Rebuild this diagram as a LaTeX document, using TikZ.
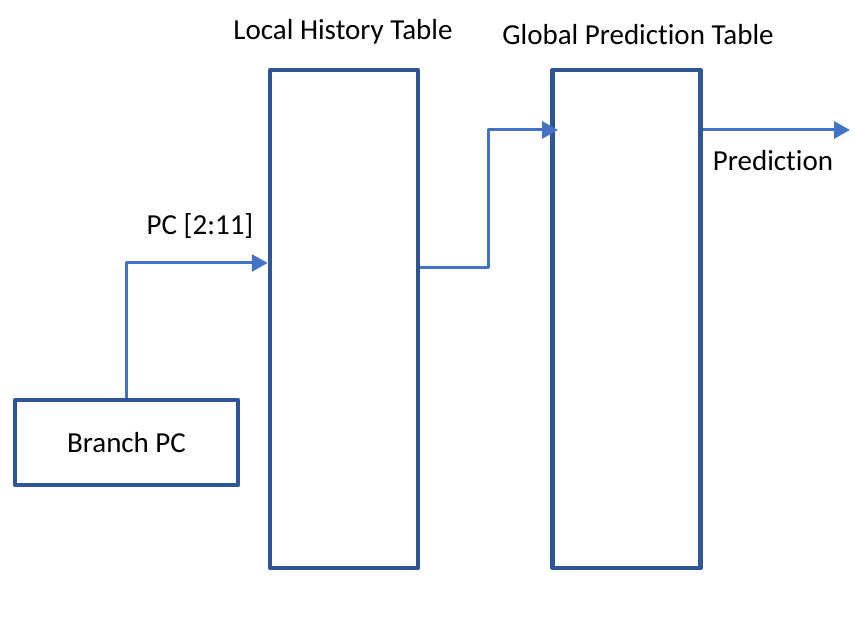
\documentclass[tikz,border=0pt]{standalone}
\usepackage{fontspec}
\setmainfont[Ligatures=NoCommon]{Carlito}
\usetikzlibrary{arrows.meta}

\definecolor{boxblue}{HTML}{2F5597}
\definecolor{wireblue}{HTML}{4472C4}

\begin{document}
\begin{tikzpicture}[
    x = 0.02cm, y = 0.02cm,
    line join=round,
    tablebox/.style = {draw=boxblue, line width=0.09cm, inner sep=0pt, minimum width=148*0.02cm, minimum height=498*0.02cm},
    pcbox/.style = {draw=boxblue, line width=0.09cm, inner sep=0pt, minimum width=223*0.02cm, minimum height=85*0.02cm, font=\fontsize{16.5}{20}\selectfont},
    wire/.style = {wireblue, line width=0.06cm, -{Triangle[length=0.32cm, width=0.34cm]}},
    lbl/.style = {font=\fontsize{16.5}{20}\selectfont, inner sep=0pt}
]

    \useasboundingbox (0, 0) rectangle (855, 635);

    % tables and pc register

    \node[pcbox] (bpc) at (126.5, 192.5) {Branch PC};
    \node[tablebox] (lht) at (344, 316) {};
    \node[tablebox] (gpt) at (626.5, 316) {};

    \node[lbl] (lhtlabel) at (343, 603) {Local History Table};
    \node[lbl] (gptlabel) at (638, 600) {Global Prediction Table};
    \node[lbl] (pclabel) at (200, 409) {PC [2:11]};
    \node[lbl] (predlabel) at (773, 474) {Prediction};

    \coordinate (lhtin) at (lht.west |- 0, 372);
    \coordinate (lhtout) at (lht.east |- 0, 367);
    \coordinate (bend) at (488, 505);
    \coordinate (gptin) at (558, 505);
    \coordinate (gptout) at (gpt.east |- 0, 505);
    \coordinate (predout) at (850, 505);

    \draw[wire] (bpc.north) |- (lhtin);
    \draw[wire] (lhtout) -| (bend) -- (gptin);
    \draw[wire] (gptout) -- (predout);

\end{tikzpicture}
\end{document}
